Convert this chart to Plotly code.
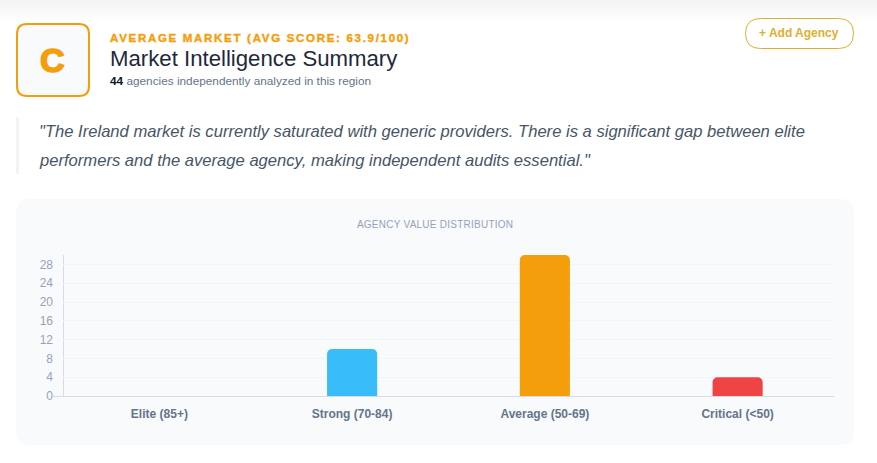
import plotly.graph_objects as go

categories = ["Elite (85+)", "Strong (70-84)", "Average (50-69)", "Critical (<50)"]
agency_counts = [0, 10, 30, 4]
bar_colors = ["#10b981", "#38bdf8", "#f59e0b", "#ef4444"]
y_tick_values = [0, 4, 8, 12, 16, 20, 24, 28]

W, H = 877, 463
L, R, T, B = 63, 834, 255, 396
FONT = "Liberation Sans"


def px(x):
    return (x - L) / (R - L)


def py(y):
    return (B - y) / (B - T)


def round_rect(x0, y0, x1, y1, r):
    a, b, c, d = px(x0), px(x1), py(y0), py(y1)
    rx, ry = r / (R - L), r / (B - T)
    return (
        f"M{a + rx},{c} L{b - rx},{c} Q{b},{c} {b},{c - ry} "
        f"L{b},{d + ry} Q{b},{d} {b - rx},{d} L{a + rx},{d} "
        f"Q{a},{d} {a},{d + ry} L{a},{c - ry} Q{a},{c} {a + rx},{c} Z"
    )


def shape_box(x0, y0, x1, y1, r, fill, line=None, width=0):
    return dict(
        type="path", xref="paper", yref="paper", layer="below",
        path=round_rect(x0, y0, x1, y1, r), fillcolor=fill,
        line=dict(color=line or "rgba(0,0,0,0)", width=width),
    )


def label(x, y, text, size, color, anchor="left", **font):
    return dict(
        xref="paper", yref="paper", x=px(x), y=py(y), text=text, showarrow=False,
        xanchor=anchor, yanchor="middle", align=anchor, borderpad=0, borderwidth=0,
        font=dict(family=font.pop("family", FONT), size=size, color=color, **font),
    )


shapes = []
# soft shadow at the top of the page
for i in range(22):
    level = round(243 + 12 * i / 21)
    shapes.append(dict(
        type="rect", xref="paper", yref="paper", layer="below",
        x0=px(0), x1=px(W), y0=py(i), y1=py(i + 1),
        fillcolor=f"rgb({level},{level},{level})", line=dict(width=0),
    ))
shapes += [
    shape_box(17, 24, 89, 96, 10, "#f8fafc", "#f59e0b", 2),
    shape_box(745.5, 18.5, 853.5, 48.5, 15, "#ffffff", "#dcb02f", 1),
    dict(type="rect", xref="paper", yref="paper", layer="below",
         x0=px(16), x1=px(19), y0=py(117), y1=py(174),
         fillcolor="#f1f5f9", line=dict(width=0)),
    shape_box(16, 199, 854, 445, 14, "#f8fafc"),
    dict(type="line", xref="paper", yref="paper", layer="below",
         x0=px(53), x1=px(63.5), y0=py(396.5), y1=py(396.5),
         line=dict(color="#d8dce3", width=1)),
    dict(type="line", xref="paper", yref="paper", layer="below",
         x0=px(63.5), x1=px(63.5), y0=py(255), y1=py(396.5),
         line=dict(color="#d8dce3", width=1)),
]

annotations = [
    label(52.5, 59.5, "<b>C</b>", 34, "#f59e0b", "center"),
    label(110, 38, "<b>AVERAGE MARKET (AVG SCORE: 63.9/100)</b>", 11.5, "#f59e0b"),
    label(110, 58.5, "Market Intelligence Summary", 22.2, "#1e293b"),
    label(110, 81, '<span style="color:#0f172a"><b>44</b></span> agencies independently analyzed in this region', 11.8, "#64748b"),
    label(799, 33, "<b>+ Add Agency</b>", 12, "#dcb02f", "center"),
    label(39, 131, '"The Ireland market is currently saturated with generic providers. There is a significant gap between elite', 16.6, "#475569", style="italic"),
    label(39, 160, 'performers and the average agency, making independent audits essential."', 16.6, "#475569", style="italic"),
    label(435, 224, "AGENCY VALUE DISTRIBUTION", 10, "#94a3b8", "center"),
]

fig = go.Figure(go.Bar(
    x=categories, y=agency_counts, marker=dict(color=bar_colors, line=dict(width=0)),
    width=0.26, hoverinfo="skip",
))
fig.update_layout(
    width=W, height=H, showlegend=False, barcornerradius=5,
    margin=dict(l=L, r=W - R, t=T, b=H - B, pad=0),
    paper_bgcolor="#ffffff", plot_bgcolor="rgba(0,0,0,0)",
    font=dict(family=FONT), shapes=shapes, annotations=annotations,
)
fig.update_xaxes(
    showgrid=False, showline=True, linecolor="#d8dce3", linewidth=1, ticks="",
    ticklabelstandoff=7, tickfont=dict(size=12, color="#64748b", weight="bold"),
)
fig.update_yaxes(
    range=[0, 30], tickvals=y_tick_values, showgrid=True, gridcolor="#f1f5f9", gridwidth=1,
    showline=False, ticks="", zeroline=False,
    ticklabelstandoff=9, tickfont=dict(size=12, color="#94a3b8"),
)

post = """
document.body.style.margin = '0';
document.body.style.overflow = 'hidden';
document.querySelectorAll('.annotation-text').forEach(function (t) {
  var s = t.textContent;
  if (s.indexOf('AVERAGE MARKET') === 0) {
    t.style.letterSpacing = '1.7px';
    t.style.stroke = '#f59e0b';
    t.style.strokeWidth = '0.4px';
  }
  if (s === 'C') {
    t.style.stroke = '#f59e0b';
    t.style.strokeWidth = '1.6px';
  }
  if (s.indexOf('AGENCY VALUE') === 0) t.style.letterSpacing = '0.25px';
});
"""
fig.write_html("out.html", post_script=post, config=dict(displayModeBar=False))
